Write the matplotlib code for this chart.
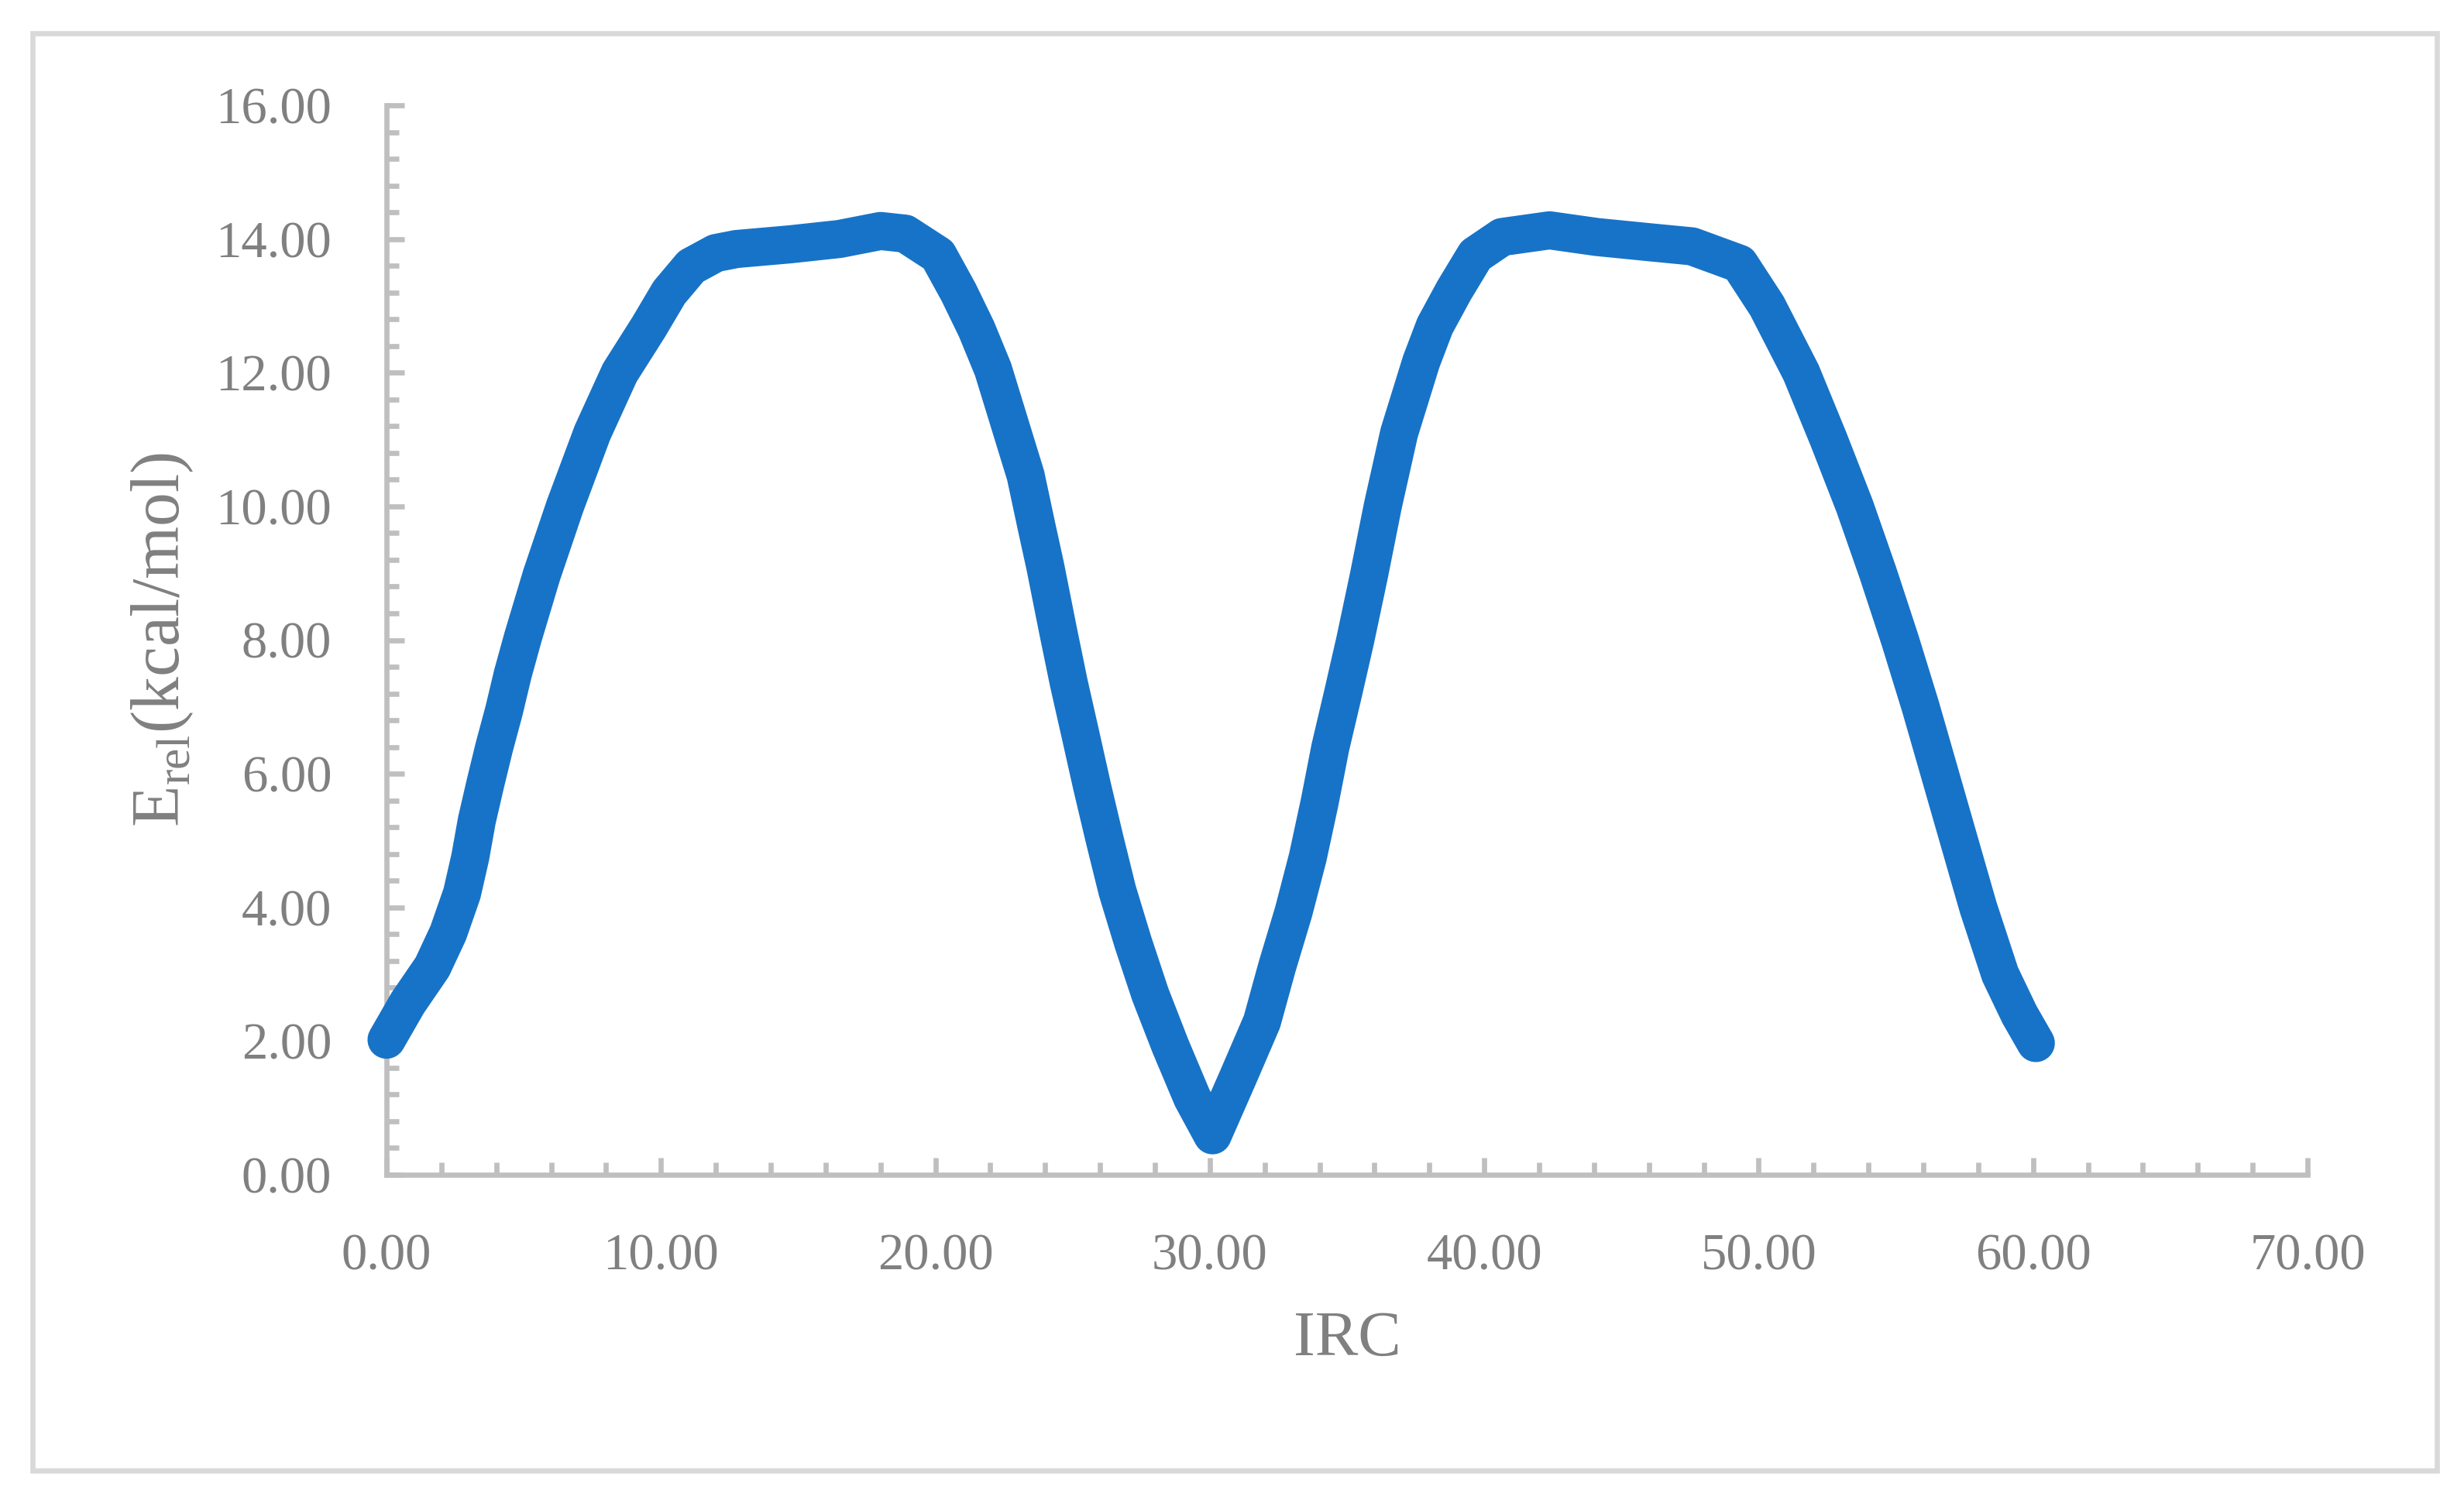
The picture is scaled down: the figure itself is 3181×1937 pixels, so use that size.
import matplotlib
matplotlib.use('Agg')
import matplotlib.pyplot as plt
from matplotlib.patches import Rectangle
from matplotlib.ticker import MultipleLocator, FormatStrFormatter

plt.rcParams['font.family'] = ['Liberation Serif', 'DejaVu Serif']
plt.rcParams['mathtext.fontset'] = 'custom'
plt.rcParams['mathtext.rm'] = 'Liberation Serif'

# IRC profile
irc = [0.00, 0.77, 1.67, 2.25, 2.75, 3.05, 3.29, 3.60, 3.92, 4.28, 4.60, 4.97,
       5.65, 6.50, 7.50, 8.50, 9.55, 10.30, 11.10, 12.00, 12.75, 14.70, 16.50,
       18.00, 18.90, 20.10, 20.85, 21.50, 22.10, 23.29, 23.69, 24.00, 24.47, 24.86,
       25.29, 25.71, 26.16, 26.63, 27.20, 27.83, 28.56, 29.36, 30.10,
       31.04, 31.90, 32.45, 33.05, 33.57, 34.00, 34.39, 34.86, 35.30, 35.80,
       36.30, 36.90, 37.70, 38.20, 38.90, 39.68, 40.65, 42.38, 44.10, 46.06,
       47.57, 49.30, 50.30, 51.55, 52.55, 53.50, 54.35, 55.15, 55.90, 56.60,
       57.30, 58.00, 58.80, 59.50, 60.10]
e_rel = [2.02, 2.57, 3.11, 3.62, 4.21, 4.75, 5.30, 5.85, 6.39, 6.94, 7.49, 8.04,
         8.97, 10.00, 11.10, 12.00, 12.68, 13.20, 13.59, 13.79, 13.85, 13.92, 14.00,
         14.12, 14.08, 13.76, 13.20, 12.65, 12.05, 10.46, 9.69, 9.11, 8.14, 7.36,
         6.58, 5.81, 5.03, 4.25, 3.48, 2.70, 1.93, 1.15, 0.59,
         1.47, 2.29, 3.11, 3.93, 4.75, 5.57, 6.39, 7.21, 8.00, 8.97,
         10.00, 11.10, 12.16, 12.70, 13.23, 13.76, 14.03, 14.13, 14.03, 13.95,
         13.89, 13.63, 13.00, 12.00, 11.00, 10.00, 9.00, 8.00, 7.00, 6.00,
         5.00, 4.00, 3.00, 2.40, 1.97]

GRAY_TXT = '#808080'
GRAY_AX = '#BFBFBF'
BLUE = '#1773C7'

fig = plt.figure(figsize=(3181 / 300, 1937 / 300), dpi=300)
ax = fig.add_axes([499 / 3181, 1 - 1517 / 1937, 2480 / 3181, 1381 / 1937])

# outer chart border
fig.patches.append(Rectangle((0.01305, 0.01962), 0.97595, 0.95818,
                             transform=fig.transFigure, fill=False,
                             edgecolor='#D9D9D9', linewidth=1.6))

ax.plot(irc, e_rel, color=BLUE, lw=11.8, solid_capstyle='round',
        solid_joinstyle='round', clip_on=False, zorder=3)

ax.set_xlim(0, 70)
ax.set_ylim(0, 16)
ax.xaxis.set_major_locator(MultipleLocator(10))
ax.xaxis.set_minor_locator(MultipleLocator(2))
ax.yaxis.set_major_locator(MultipleLocator(2))
ax.yaxis.set_minor_locator(MultipleLocator(0.4))
ax.xaxis.set_major_formatter(FormatStrFormatter('%.2f'))
ax.yaxis.set_major_formatter(FormatStrFormatter('%.2f'))

for s in ['top', 'right']:
    ax.spines[s].set_visible(False)
for s in ['left', 'bottom']:
    ax.spines[s].set_color(GRAY_AX)
    ax.spines[s].set_linewidth(1.6)

ax.tick_params(which='both', direction='in', color=GRAY_AX, width=1.6,
               labelcolor=GRAY_TXT, labelsize=16)
ax.tick_params(which='major', length=5.4)
ax.tick_params(which='minor', length=3.8)
ax.tick_params(axis='x', which='major', pad=18)
ax.tick_params(axis='y', which='major', pad=17)

ax.set_xlabel('IRC', fontsize=20, color=GRAY_TXT)
ax.xaxis.label.set_va('baseline')
ax.xaxis.set_label_coords(0.5, (1517 - 1750) / 1381)

ax.set_ylabel(r'E$_\mathregular{rel}$(kcal/mol)', fontsize=21, color=GRAY_TXT)
ax.yaxis.set_label_coords((252 - 499) / 2480, 0.5)

fig.savefig('out.png', dpi=300, facecolor='white')
